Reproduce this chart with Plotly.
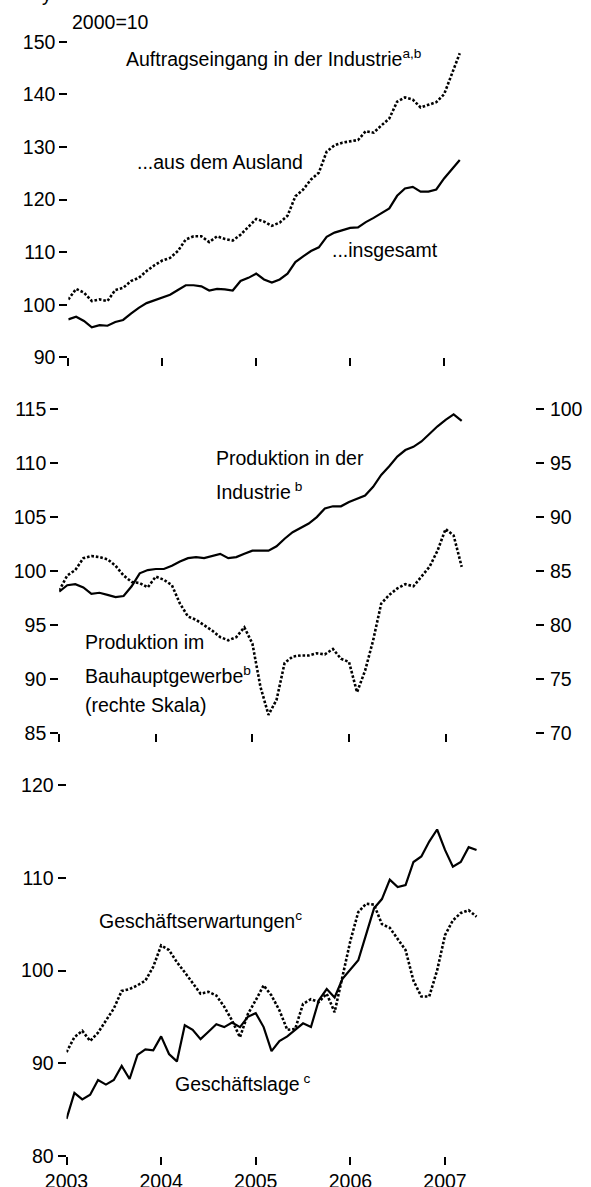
import plotly.graph_objects as go

W, H = 591, 1187
FONT = "Liberation Sans, Arial, sans-serif"
FS = 19.5

# ---------------- data ----------------
months_a = [f"{y}-{m:02d}" for y in range(2003, 2008) for m in range(1, 13)][:51]   # Jan 2003 - Mar 2007
months_b = [f"{y}-{m:02d}" for y in range(2003, 2008) for m in range(1, 13)][:53]   # Jan 2003 - May 2007
year_ticks = [2003, 2004, 2005, 2006, 2007]

auftrag_ausland = [101.0, 103.0, 102.3, 100.7, 101.0, 100.7, 102.8, 103.2, 104.5, 105.1,
                   106.4, 107.5, 108.4, 108.9, 110.2, 112.4, 113.0, 113.0, 111.9, 113.0,
                   112.5, 112.2, 113.3, 114.9, 116.3, 115.8, 115.0, 115.6, 116.9, 120.6,
                   121.9, 123.8, 125.1, 129.1, 130.3, 130.8, 131.1, 131.3, 133.0, 132.7,
                   134.1, 135.4, 138.6, 139.4, 139.0, 137.5, 138.0, 138.5, 140.0, 144.0,
                   147.8]
auftrag_insgesamt = [97.2, 97.7, 96.9, 95.7, 96.1, 96.0, 96.7, 97.1, 98.3, 99.4,
                     100.3, 100.8, 101.4, 101.9, 102.8, 103.7, 103.7, 103.5, 102.7, 103.0,
                     102.9, 102.7, 104.5, 105.1, 105.9, 104.8, 104.2, 104.8, 105.9, 108.1,
                     109.2, 110.2, 110.9, 112.9, 113.7, 114.1, 114.6, 114.7, 115.7, 116.5,
                     117.4, 118.3, 120.7, 122.1, 122.4, 121.5, 121.5, 121.9, 124.0, 125.8,
                     127.5]
prod_industrie = [98.1, 98.7, 98.8, 98.5, 97.9, 98.0, 97.8, 97.6, 97.7, 98.6,
                  99.8, 100.1, 100.2, 100.2, 100.5, 100.9, 101.2, 101.3, 101.2, 101.4,
                  101.6, 101.2, 101.3, 101.6, 101.9, 101.9, 101.9, 102.3, 103.0, 103.6,
                  104.0, 104.4, 105.0, 105.8, 106.0, 106.0, 106.4, 106.7, 107.0, 107.8,
                  108.9, 109.7, 110.6, 111.2, 111.5, 112.0, 112.7, 113.4, 114.0, 114.5,
                  113.9]
prod_bau = [83.2, 84.6, 85.1, 86.2, 86.4, 86.3, 86.1, 85.5, 84.6, 84.0,
            83.9, 83.5, 84.5, 84.2, 83.7, 82.0, 80.8, 80.5, 80.0, 79.5,
            78.9, 78.6, 78.9, 79.8, 78.3, 74.3, 71.7, 73.1, 76.5, 77.1,
            77.2, 77.2, 77.4, 77.3, 77.8, 76.9, 76.6, 73.8, 75.8, 78.6,
            82.0, 82.8, 83.4, 83.8, 83.6, 84.5, 85.4, 86.9, 88.9, 88.3,
            85.4]
geschaeftslage = [84.0, 86.8, 86.1, 86.6, 88.2, 87.7, 88.2, 89.7, 88.3, 90.9,
                  91.5, 91.4, 92.9, 91.0, 90.2, 94.1, 93.6, 92.6, 93.4, 94.2,
                  93.9, 94.4, 93.9, 95.0, 95.4, 93.9, 91.3, 92.4, 92.9, 93.6,
                  94.3, 93.9, 96.8, 98.0, 97.1, 99.1, 100.1, 101.1, 103.9, 106.7,
                  107.7, 109.8, 109.0, 109.2, 111.7, 112.3, 113.9, 115.2, 113.0, 111.2,
                  111.7, 113.3, 113.0]
geschaeftserwartungen = [91.2, 92.8, 93.5, 92.4, 93.3, 94.6, 95.9, 97.8, 98.0, 98.4,
                         98.9, 100.4, 102.7, 102.2, 100.9, 99.8, 98.7, 97.5, 97.7, 97.3,
                         96.1, 94.6, 92.8, 95.3, 96.8, 98.4, 97.3, 95.7, 93.6, 93.7,
                         96.4, 96.9, 96.6, 97.5, 95.5, 99.3, 103.2, 106.3, 107.2, 107.1,
                         105.0, 104.6, 103.4, 102.2, 98.9, 97.2, 97.2, 100.0, 103.8, 105.4,
                         106.2, 106.5, 105.8]


def dec_year(m):
    y, mo = m.split("-")
    return int(y) + (int(mo) - 1) / 12.0


xa = [dec_year(m) for m in months_a]
xb = [dec_year(m) for m in months_b]

# ---------------- layout helpers (pixel -> paper) ----------------
def fx(p):
    return p / W


def fy(p):
    return 1 - p / H


def xaxis_for(x2003, x2007, right):
    ppy = (x2007 - x2003) / 4.0
    return dict(domain=[fx(x2003), fx(right)],
                range=[2003, 2003 + (right - x2003) / ppy])


SOLID = dict(color="black", width=2.2)
DOTTED = dict(color="black", width=2.6, dash="2.6px,1.9px")

fig = go.Figure()
fig.add_trace(go.Scatter(x=xa, y=auftrag_ausland, mode="lines", line=DOTTED, xaxis="x", yaxis="y"))
fig.add_trace(go.Scatter(x=xa, y=auftrag_insgesamt, mode="lines", line=SOLID, xaxis="x", yaxis="y"))
fig.add_trace(go.Scatter(x=xa, y=prod_bau, mode="lines", line=DOTTED, xaxis="x2", yaxis="y3"))
fig.add_trace(go.Scatter(x=xa, y=prod_industrie, mode="lines", line=SOLID, xaxis="x2", yaxis="y2"))
fig.add_trace(go.Scatter(x=xb, y=geschaeftserwartungen, mode="lines", line=DOTTED, xaxis="x3", yaxis="y4"))
fig.add_trace(go.Scatter(x=xb, y=geschaeftslage, mode="lines", line=SOLID, xaxis="x3", yaxis="y4"))

common = dict(showgrid=False, zeroline=False, showline=False, ticks="outside",
              ticklen=8, tickwidth=2, tickcolor="black", automargin=False,
              tickfont=dict(family=FONT, size=FS, color="black"))

xa1 = xaxis_for(68.3, 444.1, 520)
xa2 = xaxis_for(59.2, 445.6, 535)
xa3 = xaxis_for(66.5, 445.0, 520)

fig.update_layout(
    width=W, height=H,
    margin=dict(l=0, r=0, t=0, b=0, pad=0),
    paper_bgcolor="white", plot_bgcolor="white",
    showlegend=False,
    hovermode=False,
    font=dict(family=FONT, size=FS, color="black"),
    xaxis=dict(**common, **xa1, anchor="y", tickvals=year_ticks, showticklabels=False),
    xaxis2=dict(**common, **xa2, anchor="y2", tickvals=year_ticks, showticklabels=False),
    xaxis3=dict(**common, **xa3, anchor="y4", tickvals=year_ticks,
                ticktext=[str(v) for v in year_ticks]),
    yaxis=dict(**common, domain=[fy(357.3), fy(41.7)], range=[90, 150], dtick=10, anchor="x"),
    yaxis2=dict(**common, domain=[fy(733.3), fy(409)], range=[85, 115], dtick=5, anchor="x2"),
    yaxis3=dict(**common, range=[70, 100], dtick=5, anchor="x2", overlaying="y2", side="right",
                ticklabelstandoff=2),
    yaxis4=dict(**common, domain=[fy(1156), fy(785)], range=[80, 120], dtick=10, anchor="x3"),
)

labels = [
    ("y", 40, -6),
    ("2000=10", 70, 22.5),
    ("Auftragseingang in der Industrie<sup>a,b</sup>", 124, 58),
    ("...aus dem Ausland", 135, 162),
    ("...insgesamt", 330, 250),
    ("Produktion in der", 214, 458),
    ("Industrie\u2009<sup>b</sup>", 214, 491),
    ("Produktion im", 82.6, 642),
    ("Bauhauptgewerbe<sup>b</sup>", 82.6, 675),
    ("(rechte Skala)", 82.6, 705),
    ("Geschäftserwartungen<sup>c</sup>", 97, 920),
    ("Geschäftslage\u2009<sup>c</sup>", 173, 1083),
]
for text, px, py in labels:
    fig.add_annotation(text=text, x=fx(px), y=fy(py), xref="paper", yref="paper",
                       xanchor="left", yanchor="middle", showarrow=False,
                       font=dict(family=FONT, size=FS, color="black"))

fig.write_html("out.html", config={"displayModeBar": False},
               post_script="document.body.style.margin='0px';")
